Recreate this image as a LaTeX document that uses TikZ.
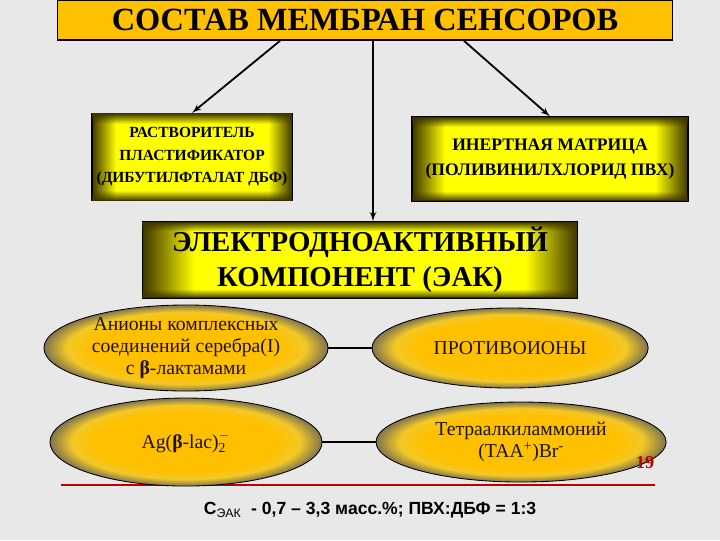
\documentclass[tikz,border=0pt]{standalone}
\usepackage{fontspec}
\setmainfont{Liberation Serif}[BoldFont={Liberation Serif Bold}, ItalicFont={Liberation Serif Italic}]
\setsansfont{Liberation Sans}
\usepackage{tikz}
\usetikzlibrary{shapes,arrows,positioning,calc,fadings}

\definecolor{titlegold}{RGB}{255,192,0}
\definecolor{glowmid}{RGB}{255,255,0}
\definecolor{glowedge}{RGB}{62,54,0}
\definecolor{ovalmid}{RGB}{255,192,0}
\definecolor{ovalrim}{RGB}{242,200,40}
\definecolor{ovaledge}{RGB}{128,116,78}
\definecolor{slidebg}{RGB}{232,232,232}
\definecolor{rulered}{RGB}{192,0,0}

\pgfdeclarehorizontalshading{boxglow}{100bp}{color(0bp)=(glowedge); color(25bp)=(glowedge); color(31bp)=(glowmid); color(69bp)=(glowmid); color(75bp)=(glowedge); color(100bp)=(glowedge)}
\pgfdeclareverticalshading{tbmask}{100bp}{color(0bp)=(transparent!0); color(25bp)=(transparent!0); color(31bp)=(transparent!100); color(69bp)=(transparent!100); color(75bp)=(transparent!0); color(100bp)=(transparent!0)}
\pgfdeclarefading{tbfade}{\pgfuseshading{tbmask}}
\pgfdeclareradialshading{ovalglow}{\pgfpoint{0bp}{0bp}}{color(0bp)=(ovalmid); color(17bp)=(ovalmid); color(21bp)=(ovalrim); color(25bp)=(ovaledge); color(50bp)=(ovaledge)}

\tikzstyle{headbox} = [rectangle, draw, line width=1.2pt, fill=titlegold, minimum width=15.375cm, minimum height=1cm, font=\fontsize{23}{25}\selectfont\bfseries]
\tikzstyle{glowbox} = [rectangle, draw, line width=0.8pt, shade, shading=boxglow, postaction={fill=glowedge, path fading=tbfade}, align=center, font=\bfseries]
\tikzstyle{oval} = [ellipse, draw, line width=0.6pt, shade, shading=ovalglow, inner xsep=-10pt, inner ysep=-10pt, align=center, text=black!85!brown, font=\fontsize{14}{15.5}\selectfont]
\tikzstyle{line} = [draw, -latex', line width=1.3pt]

\begin{document}
\begin{tikzpicture}[x=0.025cm, y=-0.025cm]
		\fill[slidebg] (0,0) rectangle (720,540);
		\useasboundingbox (0,0) rectangle (720,540);
		
		% Head
		\node[headbox] (title) at (365,20) {СОСТАВ МЕМБРАН СЕНСОРОВ};
		
		% Row 1
		\node[glowbox, minimum width=5cm, minimum height=2.175cm, font=\fontsize{11}{16}\selectfont\bfseries] (plast) at (192,157) {РАСТВОРИТЕЛЬ\\ПЛАСТИФИКАТОР\\(ДИБУТИЛФТАЛАТ ДБФ)};
		\node[glowbox, minimum width=6.9cm, minimum height=2.1cm, font=\fontsize{12.5}{17.5}\selectfont\bfseries] (matrix) at (550,159) {ИНЕРТНАЯ МАТРИЦА\\(ПОЛИВИНИЛХЛОРИД ПВХ)};
		
		% Row 2
		\node[glowbox, minimum width=10.875cm, minimum height=1.9cm, font=\fontsize{20.5}{25}\selectfont\bfseries] (eak) at (360,260) {ЭЛЕКТРОДНОАКТИВНЫЙ\\КОМПОНЕНТ (ЭАК)};
		
		% red rule under the ovals
		\draw[rulered, line width=1.5pt] (61,485) -- (655,485);
		
		% Ovals
		\node[oval, minimum width=7.1cm, minimum height=2.15cm] (anion) at (186,348) {Анионы комплексных\\соединений серебра(I)\\с \textbf{β}-лактамами};
		\node[oval, minimum width=6.9cm, minimum height=2cm, right of=anion, node distance=8.1cm] (counter) {ПРОТИВОИОНЫ};
		\node[oval, minimum width=6.8cm, minimum height=2.2cm, below of=anion, node distance=2.35cm] (agcomp) {Ag(\textbf{β}-lac)$_{\mathrm{2}}^{-}$};
		\node[oval, minimum width=7.25cm, minimum height=2cm, right of=agcomp, node distance=8.375cm] (taa) {Тетраалкиламмоний\\(TAA\textsuperscript{+})Br\textsuperscript{-}};
		
		% Page number and note
		\node[text=rulered, font=\fontsize{13}{13}\selectfont\bfseries] (pageno) at (645,463) {19};
		\node[font=\sffamily\bfseries\fontsize{12.5}{15}\selectfont] (conc) at (370,510) {C\textsubscript{\mdseries ЭАК}\ \ - 0,7 – 3,3 масс.\%; ПВХ:ДБФ = 1:3};
		
		% Paths
		\coordinate (tapl) at ($(title.south)+(-85,0)$);
		\coordinate (tapm) at ($(title.south)+(8,0)$);
		\coordinate (tapr) at ($(title.south)+(99,0)$);
		\path [line] (tapl) -- (plast.north);
		\path [line] (tapr) -- (matrix.north);
		\path [line] (tapm) -- (tapm |- eak.north);
		\draw[line width=0.8pt] (anion.east) -- (counter.west);
		\draw[line width=0.8pt] (agcomp.east) -- (taa.west);
		
	\end{tikzpicture}
\end{document}
